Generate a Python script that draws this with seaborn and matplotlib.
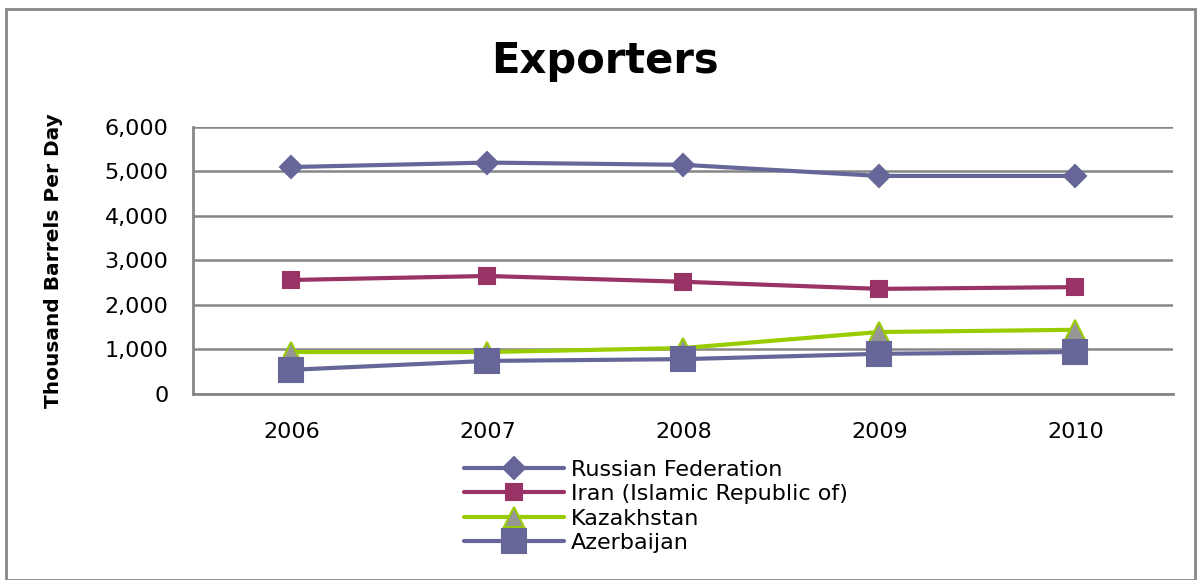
import pandas as pd
import seaborn as sns
import matplotlib.pyplot as plt
from matplotlib.patches import Rectangle
from matplotlib.ticker import FuncFormatter

# data (thousand barrels per day)
years = ["2006", "2007", "2008", "2009", "2010"]
russia = [5100, 5200, 5150, 4900, 4900]
iran = [2560, 2650, 2520, 2360, 2400]
kazakhstan = [940, 940, 1030, 1390, 1440]
azerbaijan = [540, 740, 780, 900, 940]

series = ["Russian Federation", "Iran (Islamic Republic of)", "Kazakhstan", "Azerbaijan"]
values = [russia, iran, kazakhstan, azerbaijan]

df = pd.DataFrame({
    "year": years * len(series),
    "country": [s for s in series for _ in years],
    "value": [v for vals in values for v in vals],
})

sns.set_style("white")
plt.rcParams["font.family"] = ["DejaVu Sans"]
plt.rcParams["text.color"] = "black"
plt.rcParams["xtick.color"] = "black"
plt.rcParams["ytick.color"] = "black"
plt.rcParams["axes.labelcolor"] = "black"

fig = plt.figure(figsize=(12.01, 5.80), dpi=100)
ax = fig.add_axes([0.161, 0.321, 0.816, 0.460])

styles = {
    "Russian Federation": dict(color="#666699", marker="D", markersize=11, mfc="#666699", mec="#666699"),
    "Iran (Islamic Republic of)": dict(color="#993366", marker="s", markersize=12, mfc="#993366", mec="#993366"),
    "Kazakhstan": dict(color="#99CC00", marker="^", markersize=15, mfc="#969696", mec="#99CC00"),
    "Azerbaijan": dict(color="#666699", marker="s", markersize=17, mfc="#666699", mec="#666699"),
}

for name in series:
    st = styles[name]
    sns.lineplot(data=df[df["country"] == name], x="year", y="value", ax=ax,
                 color=st["color"], linewidth=3, marker=st["marker"],
                 markersize=st["markersize"], markerfacecolor=st["mfc"],
                 markeredgecolor=st["mec"], markeredgewidth=1.5, label=name)

ax.set_xlim(-0.5, 4.5)
ax.set_ylim(0, 6000)
ax.set_yticks(range(0, 6001, 1000))
ax.yaxis.set_major_formatter(FuncFormatter(lambda v, p: f"{int(v):,}"))
ax.grid(axis="y", color="#868686", linewidth=1.8)
ax.set_axisbelow(True)
for side in ["top", "right"]:
    ax.spines[side].set_visible(False)
ax.spines["left"].set_color("#868686")
ax.spines["left"].set_linewidth(2)
ax.spines["bottom"].set_color("#868686")
ax.spines["bottom"].set_linewidth(2)
ax.tick_params(axis="y", labelsize=16, length=0, pad=18)
ax.tick_params(axis="x", labelsize=16, length=0, pad=20)
ax.set_xlabel("")
ax.set_ylabel("Thousand Barrels Per Day", fontsize=14.5, fontweight="bold", labelpad=30)

fig.text(0.504, 0.895, "Exporters", ha="center", va="center",
         fontsize=30, fontweight="bold")

ax.legend(loc="upper left", bbox_to_anchor=(0.265, -0.205), frameon=False,
          fontsize=16, handlelength=4.5, labelspacing=0.2, borderpad=0,
          handletextpad=0.3)

fig.patches.append(Rectangle((0.005, 0.0), 0.99, 0.985, transform=fig.transFigure,
                             fill=False, edgecolor="#868686", linewidth=2))

fig.savefig("out.png", dpi=100)
